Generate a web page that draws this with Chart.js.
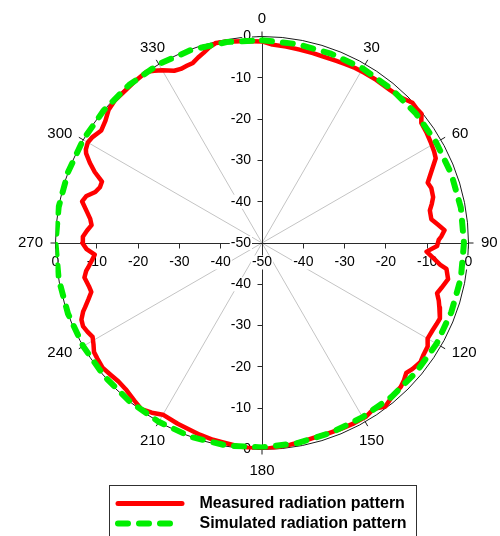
<!DOCTYPE html>
<html>
<head>
<meta charset="utf-8">
<title>Radiation pattern</title>
<script src="https://cdn.jsdelivr.net/npm/chart.js@4.4.1/dist/chart.umd.min.js"></script>
<style>
  html, body { margin: 0; padding: 0; background: #ffffff; }
  #wrap { position: relative; width: 500px; height: 536px; }
</style>
</head>
<body>
<div id="wrap"><canvas id="pattern"></canvas></div>
<script>
// Measured pattern: angle (deg, clockwise from 0 at top) and normalised level (dB)
const measuredAngles = [
  0, 3, 7, 11, 15, 18, 22, 25, 28, 31, 35, 40, 44, 47, 49, 51, 53, 56, 59, 62,
  64, 67, 70, 72, 75, 77, 79, 82, 84, 86, 88, 89, 91, 93, 95, 97, 98, 101, 104, 106,
  108, 110, 113, 115, 117, 120, 122, 125, 127, 130, 132, 134, 136, 140, 143, 146, 149, 153, 157, 161,
  165, 169, 172, 176, 180, 184, 187, 191, 194, 198, 201, 205, 210, 213, 216, 219, 223, 226, 229, 232,
  235, 237, 239, 241, 243, 245, 247, 249, 250, 252, 254, 256, 259, 261, 262, 264, 266, 268, 270, 272,
  274, 276, 278, 280, 283, 285, 287, 289, 291, 293, 295, 297, 298, 300, 302, 305, 308, 311, 314, 318,
  322, 326, 328, 330, 333, 335, 337, 339, 341, 343, 345, 347, 350, 354, 357, 360
];
const measuredDb = [
  -1.2, -1.9, -2.1, -2.3, -2.4, -2.5, -2.4, -2.2, -2.0, -1.9, -1.8, -1.7, -1.2, -0.2, -0.4, -0.3, -1.7, -2.0, -2.4, -2.8,
  -3.2, -5.4, -7.3, -6.9, -7.1, -7.8, -8.6, -8.6, -7.2, -5.7, -6.6, -7.2, -7.6, -10.1, -8.4, -6.5, -4.9, -4.1, -5.2, -5.9,
  -5.0, -4.3, -3.2, -3.4, -3.6, -3.7, -2.7, -2.4, -2.0, -2.5, -3.0, -2.2, -1.6, -1.2, -0.4, -1.6, -1.0, -1.0, -1.1, -1.2,
  -1.2, -0.9, -0.7, -0.4, 0.0, -0.3, -0.5, -0.8, -0.9, -1.2, -1.5, -1.7, -2.0, -1.0, -0.3, -0.9, -1.6, -1.7, -1.4, -1.0,
  -1.3, -1.5, -2.4, -3.1, -2.6, -2.2, -2.5, -3.6, -4.4, -5.8, -7.0, -6.8, -6.2, -6.9, -7.5, -8.5, -9.4, -7.5, -6.5, -6.6,
  -7.5, -8.5, -8.0, -7.0, -5.3, -6.0, -7.8, -8.5, -8.5, -6.0, -4.0, -2.2, -1.7, -1.3, -1.6, -2.5, -1.9, -0.8, -0.4, -0.4,
  -0.2, 0.0, -0.8, -1.7, -3.2, -3.5, -3.4, -3.3, -2.5, -1.8, -0.9, -0.3, -0.5, -0.9, -1.1, -1.2
];

// Simulated pattern, every 10 degrees
const simulatedAngles = [
  0, 10, 20, 30, 40, 50, 60, 70, 80, 90, 100, 110, 120, 130, 140, 150, 160, 170,
  180, 190, 200, 210, 220, 230, 240, 250, 260, 270, 280, 290, 300, 310, 320, 330, 340, 350, 360
];
const simulatedDb = [
  -0.9, -1.1, -1.2, -1.2, -1.3, -1.3, -1.3, -1.2, -1.1, -1.1, -1.1, -1.2, -1.2, -1.3, -1.3, -1.3, -1.1, -0.8,
  -0.5, -0.2, 0.0, 0.0, 0.0, 0.0, 0.0, 0.0, 0.0, 0.0, 0.0, 0.0, 0.0, 0.0, 0.0, 0.0, -0.2, -0.6, -0.9
];

// Radial level ticks (dB) and angular ticks (deg)
const levelTicks = [-50, -40, -30, -20, -10, 0];
const angleTicks = [0, 30, 60, 90, 120, 150, 180, 210, 240, 270, 300, 330];
const seriesNames = ['Measured radiation pattern', 'Simulated radiation pattern'];

const dbFloor = -50;
const dbTop = 0;
const span = dbTop - dbFloor;

// polar (angle, dB) -> cartesian value pair centred on the -50 dB floor
function toCartesian(angles, levels) {
  return angles.map((a, i) => {
    const r = levels[i] - dbFloor;
    const t = a * Math.PI / 180;
    return { x: r * Math.sin(t), y: r * Math.cos(t) };
  });
}

const tickFont = '14px Arial, "Liberation Sans", sans-serif';
const angleFont = '15px Arial, "Liberation Sans", sans-serif';
const legendFont = 'bold 16px Arial, "Liberation Sans", sans-serif';

// Polar frame: spokes, outer ring, axes, ticks and labels, drawn under the curves
const polarFrame = {
  id: 'polarFrame',
  beforeDatasetsDraw(chart) {
    const { ctx } = chart;
    const xs = chart.scales.x, ys = chart.scales.y;
    const px = v => xs.getPixelForValue(v);
    const py = v => ys.getPixelForValue(v);
    const cx = px(0), cy = py(0);
    const rx = px(span) - cx, ry = cy - py(span);
    const crispX = Math.floor(cx) + 0.5, crispY = Math.floor(cy) + 0.5;

    ctx.save();
    // spokes
    ctx.strokeStyle = '#c4c4c4';
    ctx.lineWidth = 1;
    angleTicks.forEach(a => {
      if (a % 90 === 0) return;
      const t = a * Math.PI / 180;
      ctx.beginPath();
      ctx.moveTo(cx, cy);
      ctx.lineTo(px(span * Math.sin(t)), py(span * Math.cos(t)));
      ctx.stroke();
    });

    // outer ring
    ctx.strokeStyle = '#1a1a1a';
    ctx.beginPath();
    ctx.ellipse(cx, cy, rx, ry, 0, 0, Math.PI * 2);
    ctx.stroke();

    // angular tick marks
    angleTicks.forEach(a => {
      const t = a * Math.PI / 180;
      const s = Math.sin(t), c = Math.cos(t);
      ctx.beginPath();
      ctx.moveTo(cx + rx * s, cy - ry * c);
      ctx.lineTo(cx + (rx + 5) * s, cy - (ry + 5) * c);
      ctx.stroke();
    });

    // axes through the centre
    ctx.strokeStyle = '#2a2a2a';
    ctx.beginPath();
    ctx.moveTo(crispX, py(span));
    ctx.lineTo(crispX, py(-span));
    ctx.moveTo(px(-span), crispY);
    ctx.lineTo(px(span), crispY);
    ctx.stroke();

    // axis tick marks
    levelTicks.forEach(v => {
      const r = v - dbFloor;
      if (r === 0) return;
      [r, -r].forEach(d => {
        const tx = Math.floor(px(d)) + 0.5;
        const ty = Math.floor(py(d)) + 0.5;
        ctx.beginPath();
        ctx.moveTo(tx, crispY);
        ctx.lineTo(tx, crispY + 5);
        ctx.moveTo(crispX - 5, ty);
        ctx.lineTo(crispX, ty);
        ctx.stroke();
      });
    });

    // axis tick labels with a white backing
    ctx.font = tickFont;
    ctx.textBaseline = 'middle';
    const label = (txt, x, y, align) => {
      const w = ctx.measureText(txt).width;
      const left = align === 'right' ? x - w : x - w / 2;
      ctx.fillStyle = '#ffffff';
      ctx.fillRect(left - 1, y - 7, w + 2, 14);
      ctx.fillStyle = '#000000';
      ctx.textAlign = align;
      ctx.fillText(txt, x, y);
    };
    levelTicks.forEach(v => {
      const r = v - dbFloor;
      const sides = r === 0 ? [0] : [r, -r];
      sides.forEach(d => {
        label(String(v), cx - 11, py(d), 'right');
        label(String(v), px(d), cy + 19.5, 'center');
      });
    });

    // angle labels outside the ring
    ctx.font = angleFont;
    ctx.fillStyle = '#000000';
    ctx.textAlign = 'center';
    ctx.textBaseline = 'middle';
    const h = 10.8;
    angleTicks.forEach(a => {
      const t = a * Math.PI / 180;
      const s = Math.sin(t), c = Math.cos(t);
      const txt = String(a);
      const w = ctx.measureText(txt).width;
      const gap = 12.5;
      let ax = cx + (rx + gap) * s;
      let ay = cy - (ry + gap) * c;
      if (Math.abs(s) > 0.75) {
        ax += Math.sign(s) * w / 2;
      } else if (c > 0) {
        ay -= h / 2;
      } else {
        ay += h / 2 + 3;
      }
      ctx.fillText(txt, ax, ay);
    });
    ctx.restore();
  },

  // framed legend below the plot
  afterDraw(chart) {
    const { ctx } = chart;
    const sets = chart.data.datasets;
    const boxLeft = 109.5, boxTop = 485.5, boxW = 307, boxH = 60;
    ctx.save();
    ctx.strokeStyle = '#303030';
    ctx.lineWidth = 1;
    ctx.strokeRect(boxLeft, boxTop, boxW, boxH);

    const rows = [503.5, 523.5];
    sets.forEach((ds, i) => {
      const y = rows[i];
      ctx.strokeStyle = ds.borderColor;
      ctx.lineWidth = i === 0 ? 5 : ds.borderWidth;
      ctx.lineCap = 'round';
      ctx.setLineDash(ds.borderDash || []);
      ctx.beginPath();
      if (i === 0) {
        ctx.moveTo(118, y);
        ctx.lineTo(182, y);
      } else {
        ctx.moveTo(118, y);
        ctx.lineTo(172, y);
      }
      ctx.stroke();
      ctx.setLineDash([]);
      ctx.fillStyle = '#000000';
      ctx.font = legendFont;
      ctx.textAlign = 'left';
      ctx.textBaseline = 'middle';
      ctx.fillText(ds.label, 199.5, y);
    });
    ctx.restore();
  }
};

new Chart(document.getElementById('pattern'), {
  type: 'scatter',
  data: {
    datasets: [
      {
        label: seriesNames[0],
        data: toCartesian(measuredAngles, measuredDb),
        showLine: true,
        borderColor: '#ff0000',
        borderWidth: 4.5,
        borderJoinStyle: 'round',
        borderCapStyle: 'round',
        pointRadius: 0,
        fill: false,
        order: 1
      },
      {
        label: seriesNames[1],
        data: toCartesian(simulatedAngles, simulatedDb),
        showLine: true,
        borderColor: '#00ee00',
        borderWidth: 6,
        borderDash: [10, 11],
        borderCapStyle: 'round',
        borderJoinStyle: 'round',
        pointRadius: 0,
        fill: false,
        order: 0
      }
    ]
  },
  options: {
    responsive: true,
    maintainAspectRatio: false,
    animation: false,
    events: [],
    layout: { padding: { left: 55.5, right: 31.5, top: 36.5, bottom: 86.5 } },
    scales: {
      x: { type: 'linear', min: -span, max: span, display: false },
      y: { type: 'linear', min: -span, max: span, display: false }
    },
    plugins: {
      legend: { display: false },
      tooltip: { enabled: false }
    }
  },
  plugins: [polarFrame]
});
</script>
</body>
</html>
